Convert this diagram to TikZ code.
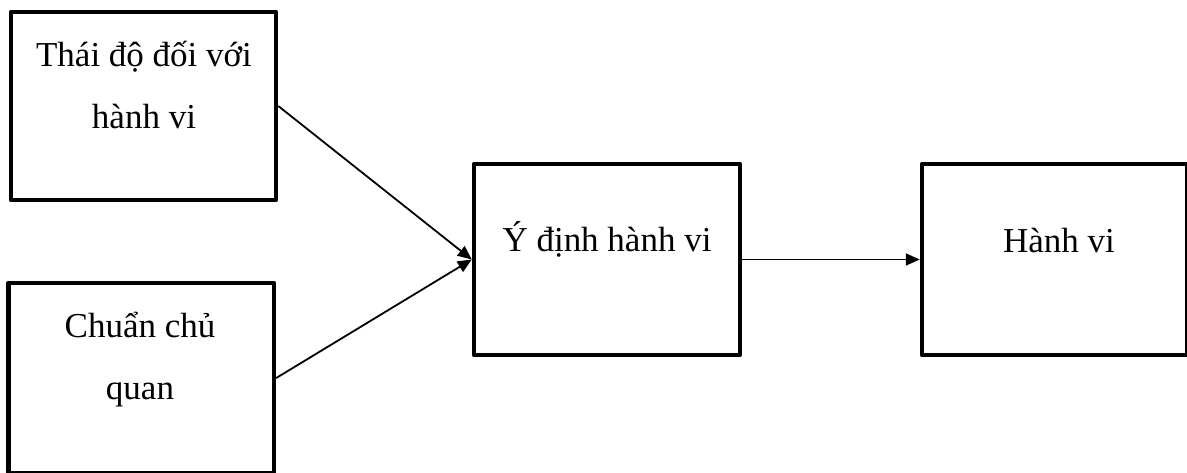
\documentclass[tikz,border=0pt]{standalone}
\usepackage{fontspec}
\setmainfont{Liberation Serif}
\usetikzlibrary{arrows.meta}
\begin{document}
\begin{tikzpicture}[x=1pt,y=-1pt,
  box/.style={draw,line width=4.5pt,line join=round,inner sep=0pt},
  txt/.style={font=\fontsize{35}{62}\selectfont,align=center,inner sep=0pt,anchor=base},
  conn/.style={line width=1.8pt,-{Triangle[length=14pt,width=12pt]}}]
\useasboundingbox (0,0) rectangle (1187,472);
\node[box,minimum width=265pt,minimum height=188pt] (b1) at (143.5,106) {};
\node[box,minimum width=265.5pt,minimum height=190pt] (b2) at (141.25,378) {};
\node[box,minimum width=266pt,minimum height=191pt] (b3) at (607,259.5) {};
\node[box,minimum width=265pt,minimum height=191pt] (b4) at (1054.5,259.5) {};
\node[txt] (t1) at (144,128) {Thái độ đối với\\hành vi};
\node[txt] (t2) at (140,399) {Chuẩn chủ\\quan};
\node[txt] (t3) at (607,251) {Ý định hành vi};
\node[txt] (t4) at (1059,252) {Hành vi};
\draw[conn] (b1.east) -- (b3.west);
\draw[conn] (b2.east) -- (b3.west);
\draw[conn] (b3.east) -- (b4.west);
\end{tikzpicture}
\end{document}
